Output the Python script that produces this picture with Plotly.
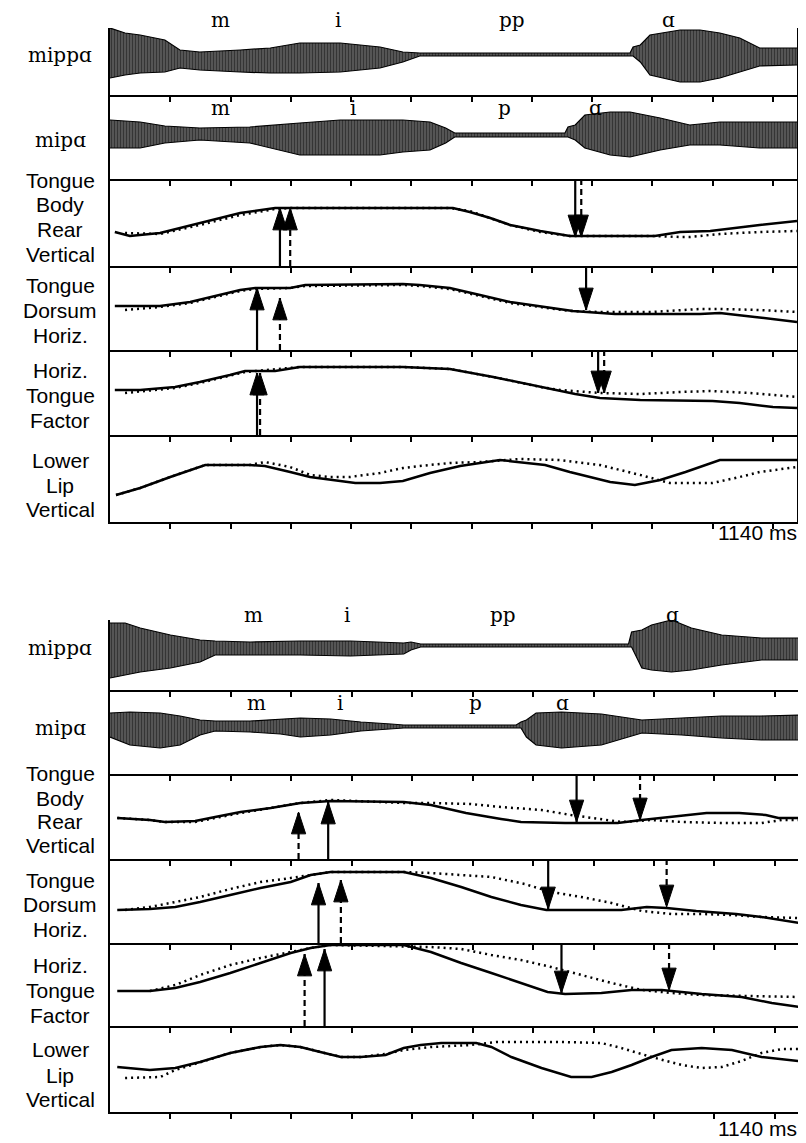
import plotly.graph_objects as go

# page offset: the browser page adds an 8px body margin, so the figure is
# sized to fit inside the window and all pixel positions are shifted by it.
OFF = 8
W, H = 806 - OFF, 1143 - OFF
X_MAX = 1140
TICK_MS = [100, 200, 300, 400, 500, 600, 700, 800, 900, 1000, 1100]

# ================= PANEL A (top) =================
# acoustic waveforms: envelope (upper / lower excursion from baseline)
A_mippa_t = [0, 25, 50, 91, 116, 149, 216, 266, 315, 382, 448, 486, 514, 548, 863, 868, 880, 896, 946, 979, 1012, 1045, 1078, 1140]
A_mippa_up = [26, 21, 19, 14, 4, 2, 4, 6, 11, 11, 7, 2, 1, 1, 1, 7, 9, 19, 24, 24, 21, 16, 6, 6]
A_mippa_lo = [-24, -21, -19, -18, -14, -16, -18, -19, -19, -18, -14, -8, -2, -2, -2, -2, -8, -21, -28, -28, -24, -18, -12, -11]

A_mipa_t = [0, 50, 91, 149, 232, 282, 315, 382, 448, 486, 531, 557, 572, 755, 760, 772, 788, 830, 863, 913, 962, 1012, 1078, 1140]
A_mipa_up = [15, 13, 9, 7, 8, 10, 12, 15, 15, 15, 13, 7, 2, 2, 8, 10, 20, 23, 23, 17, 10, 13, 13, 13]
A_mipa_lo = [-13, -13, -8, -5, -8, -15, -20, -20, -20, -17, -15, -8, -2, -2, -2, -5, -13, -20, -22, -15, -10, -10, -13, -13]

# articulator trajectories (position, arbitrary units); solid = mippa, dotted = mipa
A_tbrv_t = [8, 33, 83, 149, 216, 274, 282, 569, 597, 631, 664, 714, 763, 813, 904, 946, 996, 1078, 1140]
A_tbrv_s = [34, 30, 33, 43, 53, 58, 58, 58, 54, 48, 41, 35, 30, 30, 30, 34, 35, 41, 45]
A_tbrv_dt = [25, 83, 149, 216, 274, 299, 564, 597, 664, 714, 763, 904, 946, 962, 1012, 1078, 1140]
A_tbrv_d = [33, 32, 41, 51, 57, 58, 58, 55, 41, 34, 30, 30, 29, 29, 32, 34, 35]
A_tbrv_arrow_t = [282, 299, 772, 782]
A_tbrv_arrow_tip = [58, 58, 29, 29]
A_tbrv_arrow_dir = ["up", "up", "down", "down"]
A_tbrv_arrow_sty = ["solid", "dash", "solid", "dash"]

A_tdh_t = [8, 83, 133, 183, 216, 241, 299, 324, 486, 514, 564, 614, 664, 768, 813, 838, 979, 1012, 1070, 1140]
A_tdh_s = [44, 44, 48, 55, 60, 62, 62, 65, 66, 65, 62, 55, 48, 39, 37, 36, 36, 37, 33, 28]
A_tdh_dt = [25, 83, 133, 183, 216, 241, 299, 324, 486, 514, 564, 614, 664, 763, 813, 900, 979, 1012, 1078, 1140]
A_tdh_d = [40, 43, 47, 54, 59, 61, 62, 64, 65, 64, 61, 54, 47, 39, 38, 38, 41, 41, 40, 38]
A_tdh_arrow_t = [244, 282, 790]
A_tdh_arrow_tip = [62, 52, 40]
A_tdh_arrow_dir = ["up", "up", "down"]
A_tdh_arrow_sty = ["solid", "dash", "solid"]

A_htf_t = [8, 50, 108, 149, 199, 224, 274, 315, 486, 564, 636, 714, 772, 813, 880, 1000, 1045, 1100, 1140]
A_htf_s = [45, 45, 48, 53, 60, 64, 64, 68, 68, 66, 58, 48, 41, 37, 35, 34, 32, 28, 27]
A_htf_dt = [25, 108, 149, 199, 224, 315, 486, 564, 636, 714, 747, 813, 880, 946, 996, 1062, 1140]
A_htf_d = [42, 47, 52, 59, 63, 68, 68, 66, 58, 48, 45, 42, 41, 43, 44, 42, 38]
A_htf_arrow_t = [244, 249, 810, 820]
A_htf_arrow_tip = [62, 62, 42, 42]
A_htf_arrow_dir = ["up", "up", "down", "down"]
A_htf_arrow_sty = ["solid", "dash", "solid", "dash"]

A_llv_t = [10, 50, 100, 133, 158, 232, 257, 299, 332, 382, 407, 448, 486, 531, 581, 647, 680, 722, 763, 830, 871, 913, 955, 1012, 1140]
A_llv_s = [27, 34, 45, 52, 57, 57, 56, 50, 45, 41, 39, 39, 41, 49, 56, 62, 60, 57, 50, 40, 37, 42, 50, 62, 62]
A_llv_dt = [10, 50, 100, 158, 232, 257, 299, 332, 365, 398, 448, 486, 514, 564, 614, 680, 747, 813, 880, 929, 979, 1000, 1045, 1078, 1140]
A_llv_d = [27, 34, 45, 57, 57, 60, 55, 47, 45, 45, 49, 54, 56, 59, 60, 63, 62, 57, 47, 39, 39, 39, 45, 50, 55]

# ================= PANEL B (bottom) =================
B_mippa_t = [0, 25, 50, 100, 149, 174, 232, 315, 398, 486, 498, 514, 858, 863, 880, 896, 929, 962, 1012, 1078, 1140]
B_mippa_up = [22, 22, 17, 10, 5, 4, 3, 4, 4, 2, 3, 1, 1, 13, 15, 20, 25, 17, 10, 7, 7]
B_mippa_lo = [-33, -30, -27, -23, -17, -10, -10, -10, -11, -9, -5, -2, -2, -2, -23, -25, -27, -25, -20, -15, -15]

B_mipa_t = [0, 33, 83, 116, 149, 174, 232, 282, 315, 365, 415, 465, 486, 672, 680, 689, 705, 747, 813, 880, 946, 1012, 1078, 1140]
B_mipa_up = [13, 14, 13, 10, 6, 5, 5, 7, 8, 7, 4, 2, 1, 1, 4, 6, 13, 14, 12, 6, 8, 10, 10, 11]
B_mipa_lo = [-11, -19, -22, -19, -9, -5, -6, -8, -11, -9, -5, -3, -2, -2, -2, -11, -19, -22, -19, -7, -9, -12, -14, -14]

B_tbrv_t = [12, 66, 91, 141, 174, 216, 266, 315, 365, 486, 531, 589, 647, 680, 753, 840, 880, 924, 987, 1041, 1085, 1106, 1140]
B_tbrv_s = [41, 39, 37, 38, 42, 47, 51, 56, 58, 57, 54, 46, 40, 37, 36, 36, 39, 42, 46, 46, 44, 41, 41]
B_tbrv_dt = [12, 66, 91, 141, 174, 216, 266, 315, 365, 486, 531, 597, 647, 714, 763, 822, 846, 896, 946, 1012, 1078, 1112, 1140]
B_tbrv_d = [41, 39, 37, 37, 41, 46, 51, 56, 59, 56, 56, 55, 52, 49, 44, 39, 37, 39, 37, 36, 36, 39, 39]
B_tbrv_arrow_t = [312, 361, 772, 877]
B_tbrv_arrow_tip = [47, 57, 37, 39]
B_tbrv_arrow_dir = ["up", "up", "down", "down"]
B_tbrv_arrow_sty = ["dash", "solid", "solid", "dash"]

B_tdh_t = [12, 66, 108, 149, 199, 249, 299, 332, 365, 486, 531, 581, 631, 680, 722, 846, 888, 921, 970, 1036, 1078, 1140]
B_tdh_s = [33, 34, 36, 41, 48, 55, 61, 68, 71, 71, 65, 56, 46, 38, 33, 33, 36, 35, 32, 29, 26, 20]
B_tdh_dt = [25, 66, 108, 149, 199, 249, 299, 332, 365, 486, 531, 581, 631, 686, 730, 780, 830, 880, 929, 979, 1029, 1078, 1140]
B_tdh_d = [33, 36, 41, 46, 54, 61, 65, 68, 71, 71, 70, 68, 66, 59, 51, 46, 40, 32, 29, 29, 28, 26, 25]
B_tdh_arrow_t = [345, 382, 725, 921]
B_tdh_arrow_tip = [60, 63, 34, 36]
B_tdh_arrow_dir = ["up", "up", "down", "down"]
B_tdh_arrow_sty = ["solid", "dash", "solid", "dash"]

B_htf_t = [12, 66, 108, 149, 199, 249, 299, 332, 365, 398, 486, 531, 581, 631, 680, 724, 753, 813, 863, 913, 979, 1045, 1095, 1140]
B_htf_s = [35, 35, 38, 44, 53, 63, 73, 78, 81, 81, 81, 74, 63, 53, 43, 34, 32, 33, 36, 36, 32, 29, 23, 19]
B_htf_dt = [66, 108, 149, 199, 249, 299, 332, 365, 486, 531, 581, 631, 680, 730, 780, 830, 880, 929, 979, 1045, 1140]
B_htf_d = [35, 41, 51, 61, 68, 74, 78, 81, 80, 79, 77, 71, 66, 59, 51, 43, 36, 33, 31, 30, 29]
B_htf_arrow_t = [322, 355, 747, 925]
B_htf_arrow_tip = [72, 77, 33, 36]
B_htf_arrow_dir = ["up", "up", "down", "down"]
B_htf_arrow_sty = ["dash", "solid", "solid", "dash"]

B_llv_t = [12, 66, 108, 149, 199, 249, 282, 315, 348, 382, 415, 456, 486, 514, 548, 606, 631, 664, 714, 763, 797, 830, 863, 896, 929, 979, 1029, 1078, 1140]
B_llv_s = [45, 42, 44, 50, 59, 65, 67, 65, 60, 55, 55, 57, 64, 67, 69, 69, 65, 55, 44, 35, 35, 40, 47, 55, 62, 64, 62, 55, 51]
B_llv_dt = [25, 83, 108, 149, 199, 249, 282, 315, 348, 382, 415, 456, 486, 531, 597, 639, 680, 747, 813, 846, 896, 946, 979, 1012, 1045, 1078, 1112, 1140]
B_llv_d = [34, 35, 42, 50, 59, 65, 67, 65, 60, 55, 55, 58, 62, 65, 67, 70, 70, 70, 69, 64, 55, 47, 44, 45, 51, 59, 63, 63]

# labels
ROW_LABELS = [["mippɑ"], ["mipɑ"], ["Tongue", "Body", "Rear", "Vertical"],
              ["Tongue", "Dorsum", "Horiz."], ["Horiz.", "Tongue", "Factor"],
              ["Lower", "Lip", "Vertical"]]
A_phon_mippa = ["m", "i", "pp", "ɑ"]
A_phon_mippa_t = [183, 378, 667, 926]
A_phon_mipa = ["m", "i", "p", "ɑ"]
A_phon_mipa_t = [184, 403, 655, 805]
B_phon_mippa = ["m", "i", "pp", "ɑ"]
B_phon_mippa_t = [238, 392, 650, 931]
B_phon_mipa = ["m", "i", "p", "ɑ"]
B_phon_mipa_t = [243, 381, 604, 748]
DURATION_LABEL = "1140 ms"

# ---------------- layout geometry (window pixels) ----------------
panels = {
    "A": dict(x0=110, x1=797,
              rows=[(28, 95), (95, 179), (179, 266), (266, 350), (350, 435), (435, 522)],
              base=[54, 135],
              label_base=[[62], [147], [188, 212, 237, 262], [293, 318, 343], [378, 403, 428], [468, 493, 517]],
              phon_base=[27, 115], ms_base=540),
    "B": dict(x0=110, x1=799,
              rows=[(620, 690), (690, 774), (774, 859), (859, 943), (943, 1026), (1026, 1112)],
              base=[645, 726],
              label_base=[[655], [735], [781, 806, 829, 853], [888, 912, 937], [973, 998, 1023], [1057, 1083, 1107]],
              phon_base=[622, 710], ms_base=1136),
}

data = {
    "A": dict(waves=[(A_mippa_t, A_mippa_up, A_mippa_lo), (A_mipa_t, A_mipa_up, A_mipa_lo)],
              traj=[(A_tbrv_t, A_tbrv_s, A_tbrv_dt, A_tbrv_d),
                    (A_tdh_t, A_tdh_s, A_tdh_dt, A_tdh_d),
                    (A_htf_t, A_htf_s, A_htf_dt, A_htf_d),
                    (A_llv_t, A_llv_s, A_llv_dt, A_llv_d)],
              arrows=[(A_tbrv_arrow_t, A_tbrv_arrow_tip, A_tbrv_arrow_dir, A_tbrv_arrow_sty),
                      (A_tdh_arrow_t, A_tdh_arrow_tip, A_tdh_arrow_dir, A_tdh_arrow_sty),
                      (A_htf_arrow_t, A_htf_arrow_tip, A_htf_arrow_dir, A_htf_arrow_sty),
                      None],
              phon=[(A_phon_mippa, A_phon_mippa_t), (A_phon_mipa, A_phon_mipa_t)]),
    "B": dict(waves=[(B_mippa_t, B_mippa_up, B_mippa_lo), (B_mipa_t, B_mipa_up, B_mipa_lo)],
              traj=[(B_tbrv_t, B_tbrv_s, B_tbrv_dt, B_tbrv_d),
                    (B_tdh_t, B_tdh_s, B_tdh_dt, B_tdh_d),
                    (B_htf_t, B_htf_s, B_htf_dt, B_htf_d),
                    (B_llv_t, B_llv_s, B_llv_dt, B_llv_d)],
              arrows=[(B_tbrv_arrow_t, B_tbrv_arrow_tip, B_tbrv_arrow_dir, B_tbrv_arrow_sty),
                      (B_tdh_arrow_t, B_tdh_arrow_tip, B_tdh_arrow_dir, B_tdh_arrow_sty),
                      (B_htf_arrow_t, B_htf_arrow_tip, B_htf_arrow_dir, B_htf_arrow_sty),
                      None],
              phon=[(B_phon_mippa, B_phon_mippa_t), (B_phon_mipa, B_phon_mipa_t)]),
}

SANS = "Liberation Sans, Arial, sans-serif"
SERIF = "DejaVu Serif, serif"

fig = go.Figure()
axes = {}
annotations = []


def pxx(p):
    return (p - OFF) / W


def pyy(p):
    return 1 - (p - OFF) / H


def text_ann(txt, x, xref, base, size, family, xanchor="center"):
    annotations.append(dict(x=x, y=pyy(base - 0.35 * size), xref=xref, yref="paper",
                            text=txt, showarrow=False, xanchor=xanchor, yanchor="middle",
                            borderpad=0,
                            font=dict(size=size, family=family, color="black")))


k = 0
for p in ["A", "B"]:
    P = panels[p]
    D = data[p]
    for r, (top, bot) in enumerate(P["rows"]):
        k += 1
        xa = "xaxis" if k == 1 else f"xaxis{k}"
        ya = "yaxis" if k == 1 else f"yaxis{k}"
        xr = "x" if k == 1 else f"x{k}"
        yr = "y" if k == 1 else f"y{k}"
        if r < 2:
            b = P["base"][r]
            rng = [b - bot, b - top]
        else:
            rng = [0, bot - top]
        axes[xa] = dict(domain=[pxx(P["x0"]), pxx(P["x1"])], range=[0, X_MAX], anchor=yr,
                        side="bottom", showline=True, linecolor="black", linewidth=2,
                        ticks="outside", tickvals=TICK_MS, ticklen=5, tickwidth=2,
                        tickcolor="black", showticklabels=False, showgrid=False,
                        zeroline=False)
        axes[ya] = dict(domain=[pyy(bot), pyy(top)], range=rng, anchor=xr, showline=True,
                        mirror=True, linecolor="black", linewidth=2, ticks="",
                        showticklabels=False, showgrid=False, zeroline=False)

        if r < 2:
            t, up, lo = D["waves"][r]
            fig.add_trace(go.Scatter(x=t, y=up, xaxis=xr, yaxis=yr, mode="lines",
                                     line=dict(color="black", width=1.2),
                                     showlegend=False, hoverinfo="skip"))
            fig.add_trace(go.Scatter(x=t, y=lo, xaxis=xr, yaxis=yr, mode="lines",
                                     line=dict(color="black", width=1.2), fill="tonexty",
                                     fillcolor="#555555",
                                     fillpattern=dict(shape="|", size=3, solidity=0.6,
                                                      fgcolor="black", bgcolor="#6a6a6a"),
                                     showlegend=False, hoverinfo="skip"))
            names, times = D["phon"][r]
            for nm, tt in zip(names, times):
                text_ann(nm, tt, xr, P["phon_base"][r], 20, SERIF)
        else:
            ts, vs, td, vd = D["traj"][r - 2]
            fig.add_trace(go.Scatter(x=td, y=vd, xaxis=xr, yaxis=yr, mode="lines",
                                     line=dict(color="black", width=2.5, dash="2px,4px"),
                                     showlegend=False, hoverinfo="skip"))
            fig.add_trace(go.Scatter(x=ts, y=vs, xaxis=xr, yaxis=yr, mode="lines",
                                     line=dict(color="black", width=2.5),
                                     showlegend=False, hoverinfo="skip"))
            arr = D["arrows"][r - 2]
            if arr is not None:
                for at, tip, d, s in zip(*arr):
                    start = 0 if d == "up" else bot - top
                    ang = 0 if d == "up" else 180
                    fig.add_trace(go.Scatter(
                        x=[at, at], y=[start, tip], xaxis=xr, yaxis=yr, mode="lines",
                        line=dict(color="black", width=2.2,
                                  dash="solid" if s == "solid" else "6px,4px"),
                        cliponaxis=False, showlegend=False, hoverinfo="skip"))
                    fig.add_trace(go.Scatter(
                        x=[at], y=[tip], xaxis=xr, yaxis=yr, mode="markers",
                        marker=dict(symbol="arrow", angle=ang, size=23, color="black",
                                    line=dict(width=1, color="black")),
                        cliponaxis=False, showlegend=False, hoverinfo="skip"))

        # row label
        fam = SERIF if r < 2 else SANS
        size = 20 if r < 2 else 21
        for line_txt, base in zip(ROW_LABELS[r], P["label_base"][r]):
            text_ann(line_txt, pxx(60), "paper", base, size, fam)

    text_ann(DURATION_LABEL, pxx(798), "paper", P["ms_base"], 21, SANS, xanchor="right")

fig.update_layout(width=W, height=H, margin=dict(l=0, r=0, t=0, b=0),
                  paper_bgcolor="white", plot_bgcolor="white", showlegend=False,
                  annotations=annotations, **axes)

fig.write_html("out.html")
